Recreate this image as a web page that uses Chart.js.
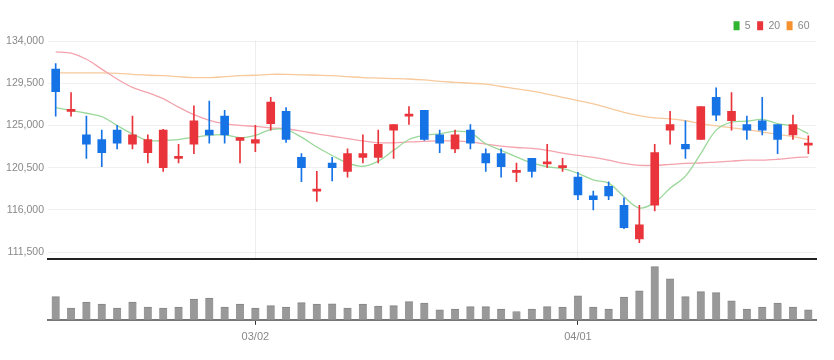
<!DOCTYPE html>
<html>
<head>
<meta charset="utf-8">
<script src="https://cdn.jsdelivr.net/npm/chart.js@4"></script>
<style>
  html, body { margin: 0; padding: 0; background: #fff; }
  #wrap { position: relative; width: 834px; height: 360px; overflow: hidden; }
  #priceBox { position: absolute; left: 0; top: 0; width: 834px; height: 269px; }
  #volBox { position: absolute; left: 0; top: 262px; width: 834px; height: 98px; }
</style>
</head>
<body>
<div id="wrap">
  <div id="priceBox"><canvas id="price"></canvas></div>
  <div id="volBox"><canvas id="vol"></canvas></div>
</div>
<script>
const dates = ['02/10','02/11','02/14','02/15','02/16','02/17','02/18','02/21','02/22','02/23','02/24','02/25','02/28',
  '03/02','03/03','03/04','03/07','03/08','03/10','03/11','03/14','03/15','03/16','03/17','03/18','03/21','03/22','03/23','03/24','03/25','03/28','03/29','03/30','03/31',
  '04/01','04/04','04/05','04/06','04/07','04/08','04/11','04/12','04/13','04/14','04/15','04/18','04/19','04/20','04/21','04/22'];
const shownDates = ['03/02', '04/01'];
const priceTicks = [111500, 116000, 120500, 125000, 129500, 134000];

const openP  = [131000,126500,124000,123500,124500,123000,122100,120500,121500,123000,124500,126000,123400,123100,125200,126500,121600,118000,121000,120100,121600,121600,124500,126000,126600,124000,122500,124500,122000,122000,120000,121500,120900,120500,119500,117500,118500,116500,112900,116500,124500,123000,123500,128000,125500,125100,125500,125100,124000,122900];
const highP  = [131600,128500,126000,124500,125000,126000,124000,124600,123000,127100,127600,126600,123700,125000,128000,126900,122000,120100,121600,122500,124000,124500,125100,127000,126600,124500,124500,125100,122500,122500,121000,121500,123000,121500,120000,118000,119000,117300,116500,123000,126500,125500,127000,129000,128500,126000,128000,125100,126100,123900];
const lowP   = [126000,126000,121500,120600,122500,122500,121000,120100,121000,122000,123100,123100,121000,122200,124500,123200,119000,116900,119100,119500,121000,121000,121500,125100,123400,122100,122100,122500,120100,119500,119000,119500,120500,120100,117100,116000,117100,114000,112500,115900,123000,121500,123500,125500,124500,123500,124000,122000,123500,122000];
const closeP = [128600,126700,123000,122100,123100,124000,123500,124500,121600,125500,124000,124000,123700,123500,127500,123500,120500,118100,120500,122000,122000,123000,125100,126100,123500,123100,124000,123100,121000,120600,120100,120100,121000,120600,117600,117100,117500,114100,114400,122100,125100,122500,127000,126100,126500,124500,124500,123500,125100,123000];

const ma5  = [126900,126600,126300,125950,125000,124100,123400,123400,123500,123750,123950,124000,123700,123950,124550,124550,123750,122700,121800,121000,120650,121200,122350,123500,123950,124100,124400,124200,123050,122350,121650,121000,120600,120400,119900,119200,118850,117400,116200,116800,118300,119600,122000,124500,125350,125450,125650,125200,124900,124100];
const ma20 = [132850,132700,132050,131000,129950,129050,128500,127850,126950,126150,125550,125200,125000,124900,124750,124650,124400,124100,123850,123600,123350,123150,123150,123250,123300,123350,123350,123250,123000,122800,122650,122550,122350,122050,121800,121600,121300,120950,120750,120750,120850,120950,121000,121100,121200,121300,121300,121400,121550,121650];
const ma60 = [130600,130600,130600,130600,130550,130450,130350,130300,130200,130100,130100,130200,130300,130350,130450,130450,130400,130350,130300,130200,130100,130050,130000,129950,129850,129700,129600,129500,129400,129150,128900,128650,128350,128000,127650,127300,126850,126400,126050,125800,125700,125500,125200,124950,124750,124550,124300,124050,123800,123500];

const volume = [233000,117000,177000,157000,117000,177000,127000,117000,127000,207000,217000,127000,157000,117000,143000,127000,173000,157000,160000,117000,157000,137000,143000,183000,167000,100000,107000,133000,133000,107000,83000,107000,133000,127000,240000,127000,107000,227000,290000,533000,410000,233000,283000,273000,190000,107000,127000,167000,127000,100000];

const maNames = ['5', '20', '60'];

Chart.defaults.font.family = "'Liberation Sans Narrow', 'Liberation Sans', Arial, sans-serif";
Chart.defaults.font.size = 11;
Chart.defaults.color = '#888';

const UP = '#e8343a', DOWN = '#1673e6';
const candleColor = (ctx) => {
  const i = ctx.dataIndex;
  return closeP[i] >= openP[i] ? UP : DOWN;
};
const keepShownTicks = (scale) => {
  scale.ticks = scale.ticks.filter(t => shownDates.includes(dates[t.value]));
};
const fixedWidth = (scale) => { scale.width = 48; };

new Chart(document.getElementById('price'), {
  data: {
    labels: dates,
    datasets: [
      { type: 'line', label: maNames[0], data: ma5, borderColor: '#9ad89a', backgroundColor: '#2fb52f', borderWidth: 1.3, pointRadius: 0, tension: 0.35, order: 3 },
      { type: 'line', label: maNames[1], data: ma20, borderColor: '#f4a3ad', backgroundColor: '#e8343a', borderWidth: 1.3, pointRadius: 0, tension: 0.35, order: 3 },
      { type: 'line', label: maNames[2], data: ma60, borderColor: '#f7c99b', backgroundColor: '#f5922f', borderWidth: 1.3, pointRadius: 0, tension: 0.35, order: 3 },
      { type: 'bar', label: 'wick', data: lowP.map((l, i) => [l, highP[i]]), backgroundColor: candleColor, barThickness: 1, grouped: false, order: 2 },
      { type: 'bar', label: 'body', data: openP.map((o, i) => [o, closeP[i]]), backgroundColor: candleColor, barThickness: 8, minBarLength: 2, grouped: false, order: 1 }
    ]
  },
  options: {
    responsive: true, maintainAspectRatio: false, animation: false,
    layout: { padding: { left: 0, right: 18, top: 14, bottom: 2 } },
    plugins: {
      tooltip: { enabled: false },
      legend: {
        position: 'top', align: 'end',
        labels: {
          boxWidth: 6, boxHeight: 9, padding: 6.5, color: '#888', font: { size: 10.5 },
          generateLabels: (chart) => chart.data.datasets
            .map((ds, i) => ({ text: ds.label, fillStyle: ds.backgroundColor, strokeStyle: ds.backgroundColor, lineWidth: 0, datasetIndex: i, fontColor: '#888' }))
            .filter(it => maNames.includes(it.text))
        }
      }
    },
    scales: {
      x: {
        offset: true,
        ticks: { display: false, autoSkip: false },
        afterBuildTicks: keepShownTicks,
        grid: { display: true, color: 'rgba(0,0,0,0.07)', drawTicks: false, offset: false },
        border: { display: true, color: '#222', width: 2 }
      },
      y: {
        min: 110800, max: 134000,
        afterBuildTicks: (scale) => { scale.ticks = priceTicks.map(v => ({ value: v })); },
        afterFit: fixedWidth,
        ticks: { color: '#888', padding: 4, font: { size: 10.5 }, callback: (v) => Number(v).toLocaleString('en-US') },
        grid: { color: 'rgba(0,0,0,0.06)', drawTicks: false },
        border: { display: false }
      }
    }
  }
});

new Chart(document.getElementById('vol'), {
  type: 'bar',
  data: {
    labels: dates,
    datasets: [{ label: 'volume', data: volume, backgroundColor: '#999999', borderColor: '#858585', borderWidth: { top: 1, left: 0, right: 0, bottom: 0 }, barThickness: 8 }]
  },
  options: {
    responsive: true, maintainAspectRatio: false, animation: false,
    layout: { padding: { left: 0, right: 18, top: 0, bottom: 10 } },
    plugins: { legend: { display: false }, tooltip: { enabled: false } },
    scales: {
      x: {
        afterBuildTicks: keepShownTicks,
        ticks: { autoSkip: false, maxRotation: 0, color: '#888', padding: 6 },
        grid: { drawOnChartArea: false, drawTicks: true, tickLength: 5, tickColor: '#333', offset: false },
        border: { display: true, color: '#777', width: 2 }
      },
      y: {
        min: 0, max: 580000,
        afterFit: fixedWidth,
        ticks: { display: false },
        grid: { display: false },
        border: { display: false }
      }
    }
  }
});
</script>
</body>
</html>
